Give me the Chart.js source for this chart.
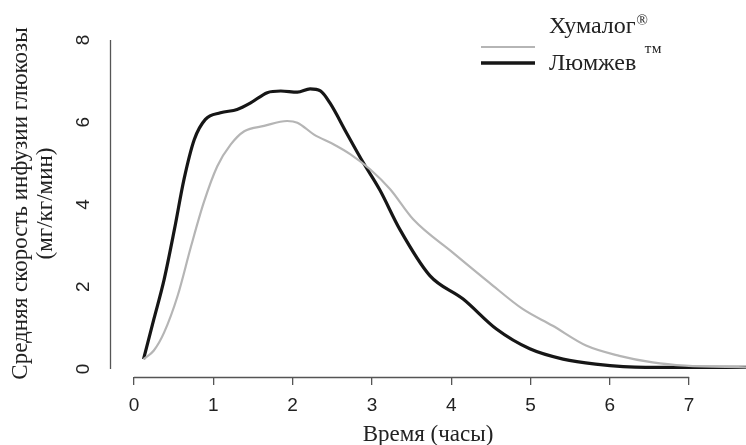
<!DOCTYPE html>
<html><head><meta charset="utf-8">
<script src="https://cdn.jsdelivr.net/npm/chart.js@4/dist/chart.umd.min.js"></script>
<style>html,body{margin:0;padding:0;background:#fff}</style>
</head><body>
<canvas id="c" width="746" height="445"></canvas>
<script>
// ---- data ----
const humalogTime = [0.12, 0.25, 0.38, 0.55, 0.72, 0.88, 1.05, 1.22, 1.39, 1.64, 1.93, 2.06, 2.27, 2.52, 2.73, 2.98, 3.23, 3.52, 4.02, 4.48, 4.90, 5.28, 5.70, 6.12, 6.54, 6.95, 7.72];
const humalogRate = [0.24, 0.45, 0.89, 1.78, 2.99, 4.05, 4.93, 5.46, 5.78, 5.91, 6.03, 5.99, 5.70, 5.46, 5.22, 4.85, 4.37, 3.64, 2.83, 2.10, 1.46, 1.05, 0.57, 0.32, 0.16, 0.08, 0.04];
const lyumjevTime = [0.12, 0.25, 0.38, 0.51, 0.63, 0.76, 0.90, 1.09, 1.30, 1.47, 1.68, 1.85, 2.06, 2.22, 2.35, 2.47, 2.68, 2.89, 3.10, 3.35, 3.73, 4.15, 4.57, 4.99, 5.41, 5.82, 6.45, 7.08, 7.72];
const lyumjevRate = [0.24, 1.21, 2.18, 3.40, 4.61, 5.58, 6.07, 6.23, 6.31, 6.47, 6.72, 6.76, 6.73, 6.81, 6.76, 6.47, 5.74, 5.02, 4.35, 3.40, 2.27, 1.70, 0.97, 0.49, 0.24, 0.12, 0.04, 0.04, 0.04];
const xTickValues = [0, 1, 2, 3, 4, 5, 6, 7];
const yTickValues = [0, 2, 4, 6, 8];
const seriesNames = ['Хумалог', 'Люмжев'];
const seriesMarks = ['®', '™'];
const xTitle = 'Время (часы)';
const yTitle = ['Средняя скорость инфузии глюкозы', '(мг/кг/мин)'];

const GRAY = '#b5b5b5', BLACK = '#161616', AXIS = '#555555', TEXT = '#222222';
const SERIF = "'Liberation Serif', 'Times New Roman', serif";
const SANS = "'Liberation Sans', Arial, sans-serif";

const toPts = (xs, ys) => xs.map((x, i) => ({x: x, y: ys[i]}));

const rAxes = {
  id: 'rAxes',
  afterDraw(chart) {
    const {ctx, scales: {x, y}, chartArea} = chart;
    ctx.save();
    ctx.strokeStyle = AXIS; ctx.lineWidth = 1.3;
    ctx.beginPath();
    const yb = chartArea.bottom + 0.5;
    ctx.moveTo(x.getPixelForValue(xTickValues[0]), yb);
    ctx.lineTo(x.getPixelForValue(xTickValues[xTickValues.length - 1]), yb);
    const xl = chartArea.left + 0.5;
    ctx.moveTo(xl, y.getPixelForValue(yTickValues[0]));
    ctx.lineTo(xl, y.getPixelForValue(yTickValues[yTickValues.length - 1]));
    ctx.stroke();
    // legend
    const items = [
      {color: GRAY, width: 2, lineY: 47, textY: 33, markY: 25, markSize: 15, gap: 1},
      {color: BLACK, width: 3.5, lineY: 63, textY: 70, markY: 58, markSize: 18, gap: 8}
    ];
    items.forEach((it, i) => {
      ctx.strokeStyle = it.color; ctx.lineWidth = it.width;
      ctx.beginPath(); ctx.moveTo(481, it.lineY); ctx.lineTo(535, it.lineY); ctx.stroke();
      ctx.fillStyle = TEXT; ctx.textBaseline = 'alphabetic'; ctx.textAlign = 'left';
      ctx.font = '24px ' + SERIF;
      ctx.fillText(seriesNames[i], 549, it.textY);
      const w = ctx.measureText(seriesNames[i]).width;
      ctx.font = it.markSize + 'px ' + SERIF;
      ctx.fillText(seriesMarks[i], 549 + w + it.gap, it.markY);
    });
    ctx.restore();
  }
};

new Chart(document.getElementById('c'), {
  type: 'line',
  data: {
    datasets: [
      {label: seriesNames[0] + seriesMarks[0], data: toPts(humalogTime, humalogRate), borderColor: GRAY, borderWidth: 2.2, pointRadius: 0, cubicInterpolationMode: 'monotone', fill: false},
      {label: seriesNames[1] + seriesMarks[1], data: toPts(lyumjevTime, lyumjevRate), borderColor: BLACK, borderWidth: 3.2, pointRadius: 0, cubicInterpolationMode: 'monotone', fill: false}
    ]
  },
  options: {
    responsive: false,
    animation: false,
    devicePixelRatio: 1,
    layout: {padding: {top: 30, left: 0, right: 0, bottom: 0}},
    plugins: {legend: {display: false}, tooltip: {enabled: false}},
    scales: {
      x: {
        type: 'linear', min: -0.303, max: 7.717,
        afterBuildTicks: s => { s.ticks = xTickValues.map(v => ({value: v})); },
        afterFit: s => { s.height = 68; },
        grid: {display: true, drawOnChartArea: false, drawTicks: true, tickLength: 8, color: AXIS, lineWidth: 1.3},
        border: {display: false},
        ticks: {font: {family: SANS, size: 19}, color: TEXT, padding: 9, maxRotation: 0, autoSkip: false},
        title: {display: true, text: xTitle, font: {family: SERIF, size: 23, lineHeight: 0.85}, color: TEXT, padding: 0}
      },
      y: {
        type: 'linear', min: -0.195, max: 8.243,
        afterBuildTicks: s => { s.ticks = yTickValues.map(v => ({value: v})); },
        afterFit: s => { s.width = 110; },
        grid: {display: false},
        border: {display: false},
        ticks: {font: {family: SANS, size: 19}, color: TEXT, padding: 13, minRotation: 90, maxRotation: 90, crossAlign: 'center'},
        title: {display: true, text: yTitle, font: {family: SERIF, size: 23, lineHeight: 1.07}, color: TEXT, padding: {top: 9, bottom: 0}}
      }
    }
  },
  plugins: [rAxes]
});
</script>
</body></html>
